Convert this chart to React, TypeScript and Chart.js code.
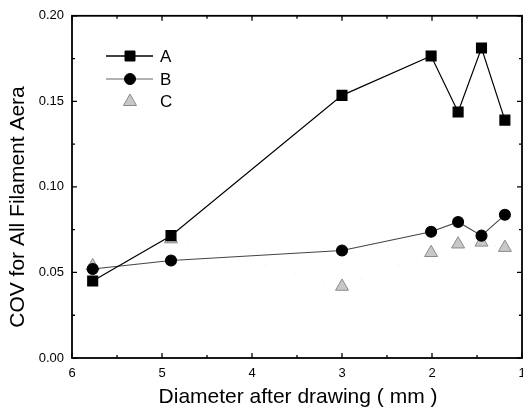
import React, { useEffect, useRef } from "react";
import { Chart, registerables } from "chart.js";

Chart.register(...registerables);

const diameters = [5.77, 4.9, 3.0, 2.01, 1.71, 1.45, 1.19];
const seriesA = [0.045, 0.0715, 0.1535, 0.1765, 0.1438, 0.1812, 0.139];
const seriesB = [0.052, 0.057, 0.0628, 0.0738, 0.0795, 0.0715, 0.0837];
const seriesC = [0.0538, 0.0695, 0.0418, 0.0615, 0.0665, 0.0676, 0.0645];
const seriesNames = ["A", "B", "C"];
const yTicks = [0, 0.05, 0.1, 0.15, 0.2];
const xTitle = "Diameter after drawing ( mm )";
const yTitle = "COV for All Filament Aera";

const FONT = "'Liberation Sans', Arial, sans-serif";

function drawMarker(ctx: CanvasRenderingContext2D, style: string, x: number, y: number, fill: string, stroke: string) {
  ctx.save();
  ctx.fillStyle = fill;
  ctx.strokeStyle = stroke;
  ctx.lineWidth = 1;
  ctx.beginPath();
  if (style === "rect") {
    ctx.rect(x - 5, y - 5, 10, 10);
  } else if (style === "circle") {
    ctx.arc(x, y, 5.5, 0, Math.PI * 2);
  } else {
    ctx.moveTo(x, y - 7);
    ctx.lineTo(x + 6.5, y + 4.5);
    ctx.lineTo(x - 6.5, y + 4.5);
    ctx.closePath();
  }
  ctx.fill();
  ctx.stroke();
  ctx.restore();
}

const framePlugin = {
  id: "frame",
  afterDraw(chart: any) {
    const { ctx, chartArea } = chart;
    const { left, right, top, bottom } = chartArea;
    const xs = chart.scales.x;
    const ys = chart.scales.y;
    ctx.save();
    ctx.strokeStyle = "#000";
    ctx.lineWidth = 1.8;
    ctx.strokeRect(left, top, right - left, bottom - top);
    ctx.lineWidth = 1.3;
    for (let v = 1; v <= 6.001; v += 0.5) {
      const px = xs.getPixelForValue(v);
      const len = Math.abs(v - Math.round(v)) < 1e-6 ? 5 : 3;
      ctx.beginPath();
      ctx.moveTo(px, bottom);
      ctx.lineTo(px, bottom - len);
      ctx.moveTo(px, top);
      ctx.lineTo(px, top + len);
      ctx.stroke();
    }
    for (let i = 0; i <= 8; i++) {
      const v = i * 0.025;
      const py = ys.getPixelForValue(v);
      const len = i % 2 === 0 ? 5 : 3;
      ctx.beginPath();
      ctx.moveTo(left, py);
      ctx.lineTo(left + len, py);
      ctx.moveTo(right, py);
      ctx.lineTo(right - len, py);
      ctx.stroke();
    }
    ctx.fillStyle = "#000";
    ctx.font = `21px ${FONT}`;
    ctx.textAlign = "center";
    ctx.textBaseline = "middle";
    ctx.fillText(xTitle, 298, 397);
    ctx.save();
    ctx.translate(18, 207);
    ctx.rotate(-Math.PI / 2);
    ctx.fillText(yTitle, 0, 0);
    ctx.restore();
    const rows = [56, 79, 101];
    chart.data.datasets.forEach((ds: any, i: number) => {
      const y = rows[i];
      if (ds.legendLine) {
        ctx.strokeStyle = ds.legendLine;
        ctx.lineWidth = 1.3;
        ctx.beginPath();
        ctx.moveTo(106, y);
        ctx.lineTo(153, y);
        ctx.stroke();
      }
      drawMarker(ctx, ds.pointStyle, 130, y, ds.pointBackgroundColor, ds.pointBorderColor);
      ctx.fillStyle = "#000";
      ctx.font = `17px ${FONT}`;
      ctx.textAlign = "left";
      ctx.fillText(ds.label, 160, y + 1);
    });
    ctx.restore();
  },
};

export default function App() {
  const ref = useRef<HTMLCanvasElement | null>(null);
  useEffect(() => {
    if (!ref.current) return;
    const mk = (vals: number[]) => diameters.map((d, i) => ({ x: d, y: vals[i] }));
    const chart = new Chart(ref.current, {
      type: "scatter",
      data: {
        datasets: [
          {
            label: seriesNames[0],
            data: mk(seriesA),
            showLine: true,
            borderColor: "#000",
            borderWidth: 1.2,
            pointStyle: "rect",
            pointRadius: 7,
            pointBackgroundColor: "#000",
            pointBorderColor: "#000",
            legendLine: "#000",
          } as any,
          {
            label: seriesNames[1],
            data: mk(seriesB),
            showLine: true,
            borderColor: "#444",
            borderWidth: 1.1,
            pointStyle: "circle",
            pointRadius: 5.5,
            pointBackgroundColor: "#000",
            pointBorderColor: "#000",
            legendLine: "#999",
          } as any,
          {
            label: seriesNames[2],
            data: mk(seriesC),
            showLine: true,
            borderColor: "rgba(0,0,0,0.05)",
            borderWidth: 1,
            borderDash: [2, 8],
            pointStyle: "triangle",
            pointRadius: 7.5,
            pointBackgroundColor: "#c8c8c8",
            pointBorderColor: "#8a8a8a",
            pointBorderWidth: 1,
            legendLine: null,
          } as any,
        ],
      },
      options: {
        animation: false,
        responsive: false,
        layout: { padding: { left: 0, top: 14, right: 18, bottom: 0 } },
        plugins: { legend: { display: false }, tooltip: { enabled: false } },
        scales: {
          x: {
            type: "linear",
            min: 1,
            max: 6,
            reverse: true,
            grid: { display: false, drawTicks: false },
            border: { display: false },
            ticks: { stepSize: 1, padding: 8, color: "#000", font: { size: 13, family: FONT } },
            afterFit: (s: any) => { s.height = 56; },
          },
          y: {
            min: 0,
            max: 0.2,
            grid: { display: false, drawTicks: false },
            border: { display: false },
            afterBuildTicks: (s: any) => { s.ticks = yTicks.map((v) => ({ value: v })); },
            ticks: {
              padding: 8,
              color: "#000",
              font: { size: 13, family: FONT },
              callback: (v: any) => Number(v).toFixed(2),
            },
            afterFit: (s: any) => { s.width = 72; },
          },
        },
      },
      plugins: [framePlugin],
    });
    return () => chart.destroy();
  }, []);
  return (
    <div style={{ position: "absolute", left: 0, top: 0, width: 523, height: 414, overflow: "hidden", background: "#fff" }}>
      <canvas ref={ref} width={540} height={414} style={{ width: 540, height: 414, display: "block" }} />
    </div>
  );
}
